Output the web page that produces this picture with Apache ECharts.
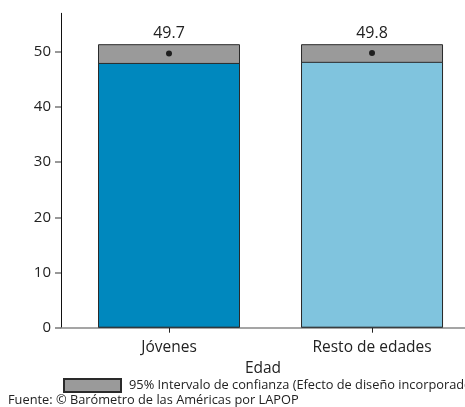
<!DOCTYPE html>
<html>
<head>
<meta charset="utf-8">
<script src="https://cdn.jsdelivr.net/npm/echarts@6/dist/echarts.min.js"></script>
<style>html,body{margin:0;padding:0;background:#fff}#c{width:465px;height:407px}</style>
</head>
<body>
<div id="c"></div>
<script>
const categories = ['Jóvenes', 'Resto de edades'];
const means = [49.7, 49.8];
const ciLow = [48.0, 48.2];
const ciHigh = [51.4, 51.4];
const barColors = ['#0088BE', '#80C4DE'];
const yTicks = [0, 10, 20, 30, 40, 50];
const legendName = '95% Intervalo de confianza (Efecto de diseño incorporado)';
const sourceText = 'Fuente: © Barómetro de las Américas por LAPOP';

const FONT = '"Open Sans", "DejaVu Sans", sans-serif';
const idx = categories.map((_, i) => i);

const chart = echarts.init(document.getElementById('c'), null, {renderer: 'canvas'});
chart.setOption({
  animation: false,
  textStyle: {fontFamily: FONT},
  title: {
    text: sourceText,
    left: 8, top: 394,
    padding: 0,
    textStyle: {fontFamily: FONT, fontSize: 12.8, fontWeight: 'normal', color: '#222'}
  },
  legend: {
    data: [legendName],
    left: 63, top: 378,
    padding: 0,
    itemWidth: 57, itemHeight: 13,
    icon: 'rect',
    textStyle: {fontFamily: FONT, fontSize: 12.8, color: '#222', padding: [0, 0, 0, 3]}
  },
  grid: {left: 61, top: 13.3, bottom: 79.3, right: 0, containLabel: false},
  xAxis: {
    type: 'value',
    min: -0.532, max: 1.458,
    name: 'Edad',
    nameLocation: 'middle',
    nameGap: 29,
    nameTextStyle: {fontFamily: FONT, fontSize: 15.5, color: '#222'},
    splitLine: {show: false},
    axisLine: {show: true, onZero: false, lineStyle: {color: '#888', width: 1.5}},
    axisTick: {show: true, customValues: idx, length: 5, lineStyle: {color: '#222'}},
    axisLabel: {
      customValues: idx, margin: 12,
      fontFamily: FONT, fontSize: 15.5, color: '#222',
      formatter: v => categories[Math.round(v)]
    }
  },
  yAxis: {
    type: 'value',
    min: 0, max: 57,
    splitLine: {show: false},
    axisLine: {show: true, onZero: false, lineStyle: {color: '#111', width: 1}},
    axisTick: {show: true, customValues: yTicks, length: 6, lineStyle: {color: '#777', width: 1.5}},
    axisLabel: {customValues: yTicks, margin: 10, fontFamily: FONT, fontSize: 15, color: '#222'}
  },
  series: [
    {
      type: 'bar',
      name: legendName,
      barWidth: 142,
      barGap: '-100%',
      itemStyle: {color: '#9A9A9A', borderColor: '#2a2a2a', borderWidth: 1},
      label: {
        show: true, position: 'top', distance: 3,
        fontFamily: FONT, fontSize: 16, color: '#222',
        formatter: p => means[p.dataIndex].toFixed(1)
      },
      data: idx.map(i => [i, ciHigh[i]]),
      z: 2
    },
    {
      type: 'bar',
      name: 'base',
      barWidth: 142,
      barGap: '-100%',
      data: idx.map(i => ({
        value: [i, ciLow[i]],
        itemStyle: {color: barColors[i], borderColor: '#2a2a2a', borderWidth: 1}
      })),
      z: 3
    },
    {
      type: 'scatter',
      name: 'mean',
      symbol: 'circle',
      symbolSize: 6,
      itemStyle: {color: '#000'},
      data: idx.map(i => [i, means[i]]),
      z: 5
    }
  ]
});
</script>
</body>
</html>
